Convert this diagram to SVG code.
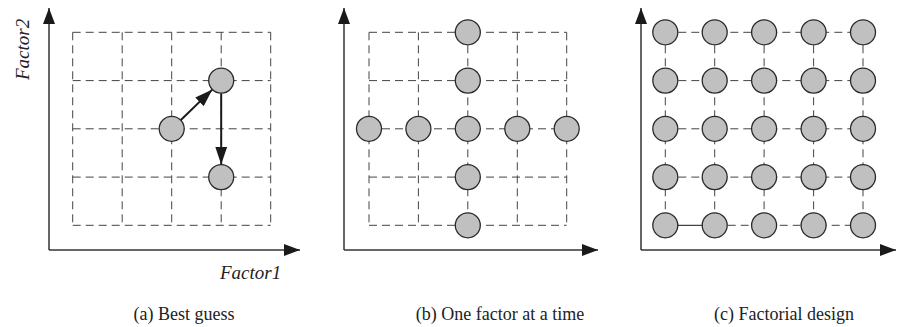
<svg xmlns="http://www.w3.org/2000/svg" width="897" height="327" viewBox="0 0 897 327">
<defs>
<marker id="ah" viewBox="0 0 10 10" refX="10" refY="5" markerWidth="10" markerHeight="10" markerUnits="userSpaceOnUse" orient="auto">
<path d="M0,0 L10,5 L0,10 Z" fill="#1a1a1a"/>
</marker>
<marker id="axh" viewBox="0 0 16 12" refX="16" refY="6" markerWidth="16" markerHeight="12" markerUnits="userSpaceOnUse" orient="auto">
<path d="M0,0 L16,6 L0,12 Z" fill="#1a1a1a"/>
</marker>
<marker id="ph" viewBox="0 0 18 12" refX="18" refY="6" markerWidth="18" markerHeight="12" markerUnits="userSpaceOnUse" orient="auto">
<path d="M0,0 L18,6 L0,12 Z" fill="#1a1a1a"/>
</marker>
</defs>
<style>
.axis{stroke:#333;stroke-width:1.5;fill:none}
.grid{stroke:#444;stroke-width:1;stroke-dasharray:8 5;fill:none}
.solid{stroke:#444;stroke-width:1.2;fill:none}
.pt{fill:#c0c0c0;stroke:#2a2a2a;stroke-width:1.3}
.move{stroke:#1a1a1a;stroke-width:2;fill:none}
.lab{font-family:"Liberation Serif","Times New Roman",serif;font-style:italic;font-size:19px;fill:#222}
.cap{font-family:"Liberation Serif","Times New Roman",serif;font-size:18px;fill:#222;text-anchor:middle}
</style>

<g id="connectors">
  <!-- axes -->
  <path class="axis" d="M49,250 V8" marker-end="url(#axh)"/>
  <path class="axis" d="M49,250 H300" marker-end="url(#axh)"/>
  <path class="axis" d="M344,250 V8" marker-end="url(#axh)"/>
  <path class="axis" d="M344,250 H598" marker-end="url(#axh)"/>
  <path class="axis" d="M641,250 V8" marker-end="url(#axh)"/>
  <path class="axis" d="M641,250 H896" marker-end="url(#axh)"/>

  <!-- grid (a) -->
  <path class="grid" d="M72.7,32.3 H270.7 M72.7,80.6 H270.7 M72.7,128.8 H270.7 M72.7,177.1 H270.7 M72.7,225.3 H270.7 M72.7,32.3 V225.3 M122.2,32.3 V225.3 M171.7,32.3 V225.3 M221.2,32.3 V225.3 M270.7,32.3 V225.3"/>
  <!-- grid (b) -->
  <path class="grid" d="M369,32.3 H566.7 M369,80.6 H566.7 M369,128.8 H566.7 M369,177.1 H566.7 M369,225.3 H566.7 M369,32.3 V225.3 M418.4,32.3 V225.3 M467.8,32.3 V225.3 M517.3,32.3 V225.3 M566.7,32.3 V225.3"/>
  <!-- grid (c) -->
  <path class="grid" d="M665.3,32.3 H863 M665.3,80.6 H863 M665.3,128.8 H863 M665.3,177.1 H863 M714.7,225.3 H863 M665.3,32.3 V225.3 M714.7,32.3 V225.3 M764.1,32.3 V225.3 M813.6,32.3 V225.3 M863,32.3 V225.3"/>
  <path class="solid" d="M665.3,225.3 H714.7"/>

  <!-- moves (a) -->
  <path class="move" d="M180.6,120.2 L212.4,89.4" marker-end="url(#ph)"/>
  <path class="move" d="M221.2,93.3 V164.6" marker-end="url(#ph)"/>
</g>

<!-- panel (a) nodes -->
<g id="a-start"><circle class="pt" cx="171.7" cy="128.8" r="12.5"/></g>
<g id="a-second"><circle class="pt" cx="221.2" cy="80.6" r="12.5"/></g>
<g id="a-third"><circle class="pt" cx="221.2" cy="177.1" r="12.5"/></g>

<!-- panel (b) nodes -->
<g id="b-c1"><circle class="pt" cx="467.8" cy="32.3" r="12.5"/></g>
<g id="b-c2"><circle class="pt" cx="467.8" cy="80.6" r="12.5"/></g>
<g id="b-r1"><circle class="pt" cx="369" cy="128.8" r="12.5"/></g>
<g id="b-r2"><circle class="pt" cx="418.4" cy="128.8" r="12.5"/></g>
<g id="b-center"><circle class="pt" cx="467.8" cy="128.8" r="12.5"/></g>
<g id="b-r4"><circle class="pt" cx="517.3" cy="128.8" r="12.5"/></g>
<g id="b-r5"><circle class="pt" cx="566.7" cy="128.8" r="12.5"/></g>
<g id="b-c4"><circle class="pt" cx="467.8" cy="177.1" r="12.5"/></g>
<g id="b-c5"><circle class="pt" cx="467.8" cy="225.3" r="12.5"/></g>

<!-- panel (c) nodes -->
<g id="c-1-1"><circle class="pt" cx="665.3" cy="32.3" r="12.5"/></g>
<g id="c-1-2"><circle class="pt" cx="714.7" cy="32.3" r="12.5"/></g>
<g id="c-1-3"><circle class="pt" cx="764.1" cy="32.3" r="12.5"/></g>
<g id="c-1-4"><circle class="pt" cx="813.6" cy="32.3" r="12.5"/></g>
<g id="c-1-5"><circle class="pt" cx="863" cy="32.3" r="12.5"/></g>
<g id="c-2-1"><circle class="pt" cx="665.3" cy="80.6" r="12.5"/></g>
<g id="c-2-2"><circle class="pt" cx="714.7" cy="80.6" r="12.5"/></g>
<g id="c-2-3"><circle class="pt" cx="764.1" cy="80.6" r="12.5"/></g>
<g id="c-2-4"><circle class="pt" cx="813.6" cy="80.6" r="12.5"/></g>
<g id="c-2-5"><circle class="pt" cx="863" cy="80.6" r="12.5"/></g>
<g id="c-3-1"><circle class="pt" cx="665.3" cy="128.8" r="12.5"/></g>
<g id="c-3-2"><circle class="pt" cx="714.7" cy="128.8" r="12.5"/></g>
<g id="c-3-3"><circle class="pt" cx="764.1" cy="128.8" r="12.5"/></g>
<g id="c-3-4"><circle class="pt" cx="813.6" cy="128.8" r="12.5"/></g>
<g id="c-3-5"><circle class="pt" cx="863" cy="128.8" r="12.5"/></g>
<g id="c-4-1"><circle class="pt" cx="665.3" cy="177.1" r="12.5"/></g>
<g id="c-4-2"><circle class="pt" cx="714.7" cy="177.1" r="12.5"/></g>
<g id="c-4-3"><circle class="pt" cx="764.1" cy="177.1" r="12.5"/></g>
<g id="c-4-4"><circle class="pt" cx="813.6" cy="177.1" r="12.5"/></g>
<g id="c-4-5"><circle class="pt" cx="863" cy="177.1" r="12.5"/></g>
<g id="c-5-1"><circle class="pt" cx="665.3" cy="225.3" r="12.5"/></g>
<g id="c-5-2"><circle class="pt" cx="714.7" cy="225.3" r="12.5"/></g>
<g id="c-5-3"><circle class="pt" cx="764.1" cy="225.3" r="12.5"/></g>
<g id="c-5-4"><circle class="pt" cx="813.6" cy="225.3" r="12.5"/></g>
<g id="c-5-5"><circle class="pt" cx="863" cy="225.3" r="12.5"/></g>

<g id="labels">
  <text class="lab" x="220" y="279">Factor1</text>
  <text class="lab" transform="translate(29,80) rotate(-90)">Factor2</text>
  <text class="cap" x="184" y="320">(a) Best guess</text>
  <text class="cap" x="500" y="320">(b) One factor at a time</text>
  <text class="cap" x="784" y="320">(c) Factorial design</text>
</g>
</svg>
